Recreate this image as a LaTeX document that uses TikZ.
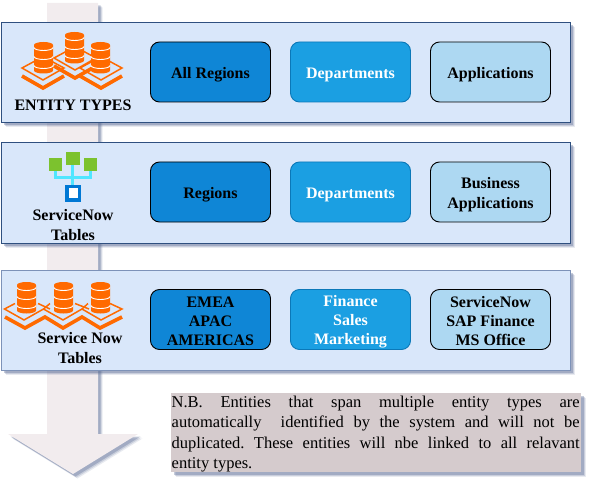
\documentclass[tikz,border=0pt]{standalone}
\usepackage{fontspec}
\setmainfont{Liberation Serif}
\usetikzlibrary{shadows}
\definecolor{panelfill}{HTML}{D9E7FA}
\definecolor{paneledge}{HTML}{2F5080}
\definecolor{paneledgeb}{HTML}{7D92B8}
\definecolor{darkbox}{HTML}{0F86D6}
\definecolor{midbox}{HTML}{1B9FE2}
\definecolor{midedge}{HTML}{0B78B8}
\definecolor{lightbox}{HTML}{ADD8F2}
\definecolor{arrowfill}{HTML}{F2ECEE}
\definecolor{notefill}{HTML}{D5CBCD}
\definecolor{shadowblue}{HTML}{5A6B94}
\definecolor{iconorange}{HTML}{FF6A00}
\definecolor{icongreen}{HTML}{7CC22E}
\definecolor{iconcyan}{HTML}{50E6FF}
\definecolor{iconblue}{HTML}{0078D4}
\tikzset{
  softshadow/.style={
    general shadow={shadow xshift=4.5pt,shadow yshift=-4.5pt,fill=shadowblue,opacity=.14},
    general shadow={shadow xshift=3.5pt,shadow yshift=-3.5pt,fill=shadowblue,opacity=.22},
    general shadow={shadow xshift=2.5pt,shadow yshift=-2.5pt,fill=shadowblue,opacity=.35}},
  panel/.style={draw=paneledge,line width=1pt,fill=panelfill,softshadow,minimum width=569.5pt,minimum height=100pt,inner sep=0pt,anchor=north west},
  tile/.style={rounded corners=9pt,minimum width=120pt,minimum height=60pt,inner sep=0pt,line width=.9pt},
  tiledark/.style={tile,fill=darkbox,draw=black},
  tilemid/.style={tile,fill=midbox,draw=midedge},
  tilelight/.style={tile,fill=lightbox,draw=black},
  tiletext/.style={inner sep=0pt,yshift=-3pt,align=center,text=black,font=\fontsize{16}{#1}\selectfont\bfseries},
  tiletext/.default=20,
  caption/.style={font=\fontsize{16}{20}\selectfont\bfseries,align=center,text=black,inner sep=0pt},
  thinline/.style={draw=iconorange,line width=1.5pt,fill=none,line join=miter},
  thickline/.style={draw=iconorange,line width=3.6pt,fill=none,line join=miter},
  dbcyl/.pic={
    \fill[iconorange] (-9.5,-12.5) arc[start angle=180,end angle=360,x radius=9.5,y radius=3] -- (9.5,13) arc[start angle=0,end angle=180,x radius=9.5,y radius=3] -- cycle;
    \draw[white,line width=.9pt] (-9.5,-10) arc[start angle=180,end angle=0,x radius=9.5,y radius=3];
    \draw[white,line width=.9pt] (-9.5,-1) arc[start angle=180,end angle=0,x radius=9.5,y radius=3];
    \draw[white,line width=.9pt] (-9.5,8) arc[start angle=180,end angle=0,x radius=9.5,y radius=3];
  },
  platform/.pic={
    \draw[thinline] (-8,-13) -- (-21,-6) -- (0,6) -- (21,-6) -- (8,-13);
    \draw[thickline] (-21,2) -- (0,14) -- (21,2);
  }
}
\begin{document}
\begin{tikzpicture}[x=1pt,y=-1pt]
\useasboundingbox (0,0) rectangle (592,492);

% big arrow behind everything
\fill[arrowfill,softshadow] (47,3) -- (98,3) -- (98,434) -- (138,434) -- (73,474) -- (8,434) -- (47,434) -- cycle;

% panels
\node[panel] (panelA) at (0.5,22.5) {};
\node[panel] (panelB) at (0.5,142.5) {};
\node[panel,draw=paneledgeb] (panelC) at (0.5,269.5) {};

% row 1
\node[tiledark]  (r1a) at (210.5,72)  {};
\node[tilemid]   (r1b) at (350.5,72)  {};
\node[tilelight] (r1c) at (490.5,72)  {};
\node[tiletext] (t1a) at (r1a.center) {All Regions};
\node[tiletext,text=white] (t1b) at (r1b.center) {Departments};
\node[tiletext] (t1c) at (r1c.center) {Applications};
% row 2
\node[tiledark]  (r2a) at (210.5,192) {};
\node[tilemid]   (r2b) at (350.5,192) {};
\node[tilelight] (r2c) at (490.5,192) {};
\node[tiletext] (t2a) at (r2a.center) {Regions};
\node[tiletext,text=white] (t2b) at (r2b.center) {Departments};
\node[tiletext] (t2c) at (r2c.center) {Business\\Applications};
% row 3
\node[tiledark]  (r3a) at (210.5,319.5) {};
\node[tilemid]   (r3b) at (350.5,319.5) {};
\node[tilelight] (r3c) at (490.5,319.5) {};
\node[tiletext=19,yshift=1pt] (t3a) at (r3a.center) {EMEA\\APAC\\AMERICAS};
\node[tiletext=19,yshift=1pt,text=white] (t3b) at (r3b.center) {Finance\\Sales\\Marketing};
\node[tiletext=19,yshift=1pt] (t3c) at (r3c.center) {ServiceNow\\SAP Finance\\MS Office};

% icon 1
\pic at (43,74) {platform};
\pic at (101,74) {platform};
\pic at (75,64) {platform};
\pic at (43.5,57.5) {dbcyl};
\pic at (74.5,47.5) {dbcyl};
\pic at (100.5,57.5) {dbcyl};
\node[caption] (capA) at (73,105) {ENTITY TYPES};

% icon 2
\draw[iconcyan,line width=3pt] (55.5,170) -- (55.5,177.5) -- (90.5,177.5) -- (90.5,170);
\draw[iconcyan,line width=3.2pt] (72.7,164) -- (72.7,186);
\fill[icongreen] (49,158) rectangle (62,171);
\fill[icongreen] (66,152) rectangle (79.5,165);
\fill[icongreen] (84,158) rectangle (97,171);
\fill[iconblue] (65,185) rectangle (81,201.5);
\fill[white] (68.5,188.5) rectangle (77.5,198);
\node[caption] (capB) at (73,225) {ServiceNow\\Tables};

% icon 3
\draw[thinline] (15,303.5) -- (4.5,309) -- (24,320) -- (43.5,309) -- (63,320) -- (82,309) -- (101,320) -- (122,309) -- (110,303.5);
\draw[thinline] (38,303.5) -- (50,309);
\draw[thinline] (50,303.5) -- (43.5,309);
\draw[thinline] (75,303.5) -- (89,309);
\draw[thinline] (88,303.5) -- (82,309);
\draw[thickline] (5,317) -- (25,328) -- (45,317) -- (63,328) -- (82,317) -- (100,328) -- (122,317);
\pic at (26.5,297.5) {dbcyl};
\pic at (63.5,297.5) {dbcyl};
\pic at (100.5,297.5) {dbcyl};
\node[caption] (capC) at (80,348) {Service Now\\Tables};

% note
\node[fill=notefill,softshadow,anchor=north west,minimum width=410pt,minimum height=79pt,inner sep=0pt] (note) at (171,393) {};
\node[anchor=north west,text width=408pt,align=justify,inner sep=0pt,font=\fontsize{16.5}{20.5}\selectfont\frenchspacing,text=black] (notetext) at (171.5,395.5)
 {N.B. Entities that span multiple entity types are\linebreak automatically\ \ identified by the system and will not be\linebreak duplicated. These entities will nbe linked to all relavant\linebreak entity types.};
\end{tikzpicture}
\end{document}
